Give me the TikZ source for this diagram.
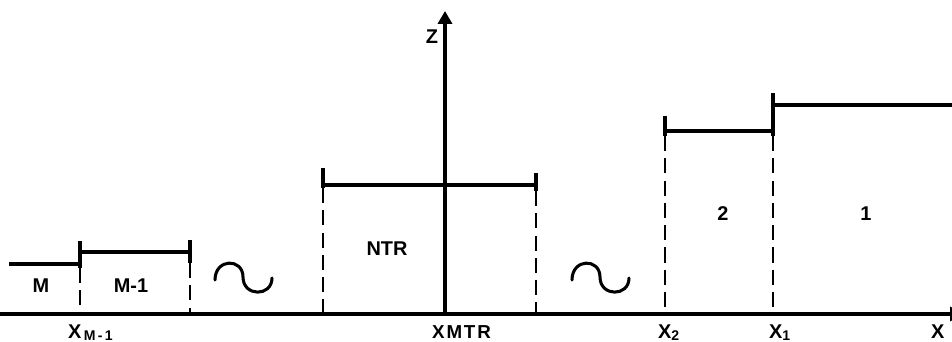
\documentclass[tikz,border=0pt]{standalone}
\usepackage{fontspec}
\setmainfont{Liberation Sans}
\usetikzlibrary{arrows.meta}

% lowered index for the abscissa marks
\newcommand{\lowidx}[1]{\raisebox{-2pt}{\fontsize{12}{12}\selectfont #1}}

\begin{document}
\begin{tikzpicture}[x=0.03cm, y=-0.03cm,
  axis/.style={line width=2.6pt, -{Triangle[length=11pt,width=12pt]}},
  bar/.style={line width=2.9pt},
  cut/.style={line width=2.3pt, dash pattern=on 13pt off 6pt},
  wave/.style={line width=2.6pt, line cap=round},
  zone/.style={font=\bfseries\fontsize{17}{19}\selectfont},
  abscissa/.style={font=\bfseries\fontsize{17}{19}\selectfont, anchor=base west}]

\useasboundingbox (0,0) rectangle (952,342);

% Axes
\coordinate (o) at (0,314);
\coordinate (xend) at (963,314);
\coordinate (zfoot) at (445,314);
\coordinate (ztop) at (445,11);
\draw[axis] (o) -- (xend);
\draw[axis] (zfoot) -- (ztop);
\node[font=\bfseries\fontsize{17}{19}\selectfont] (zlab) at (432,37) {Z};

% Left end: cells M and M-1
\coordinate (m0) at (9,264);
\coordinate (m1) at (80,264);
\draw[bar] (m0) -- (m1);
\draw[bar] (80,241) -- (80,268);
\draw[bar] (80,252) -- (190,252);
\draw[bar] (190,240) -- (190,263);
\draw[cut] (80,268) -- (80,314);
\draw[cut] (190,263) -- (190,314);
\node[zone] (cm)  at (41,286)  {M};
\node[zone] (cm1) at (131,286) {M-1};

% Central cell NTR
\draw[bar] (323,168) -- (323,188);
\draw[bar] (536,173) -- (536,191);
\draw[bar] (323,185) -- (536,185);
\draw[cut] (323,188) -- (323,314);
\draw[cut] (536,191) -- (536,314);
\node[zone] (cntr) at (387,249) {NTR};

% Right end: cells 2 and 1
\draw[bar] (665,116) -- (665,136);
\draw[bar] (665,131) -- (773,131);
\draw[bar] (773,93) -- (773,136);
\draw[bar] (773,105) -- (952,105);
\draw[cut] (665,136) -- (665,314);
\draw[cut] (773,136) -- (773,314);
\node[zone] (c2) at (723,214) {2};
\node[zone] (c1) at (866,214) {1};

% Omitted cells
\draw[wave] (215,280) .. controls (215,258) and (243,258) .. (243,277)
  .. controls (243,297) and (272,297) .. (272,278);
\draw[wave] (572,280) .. controls (572,258) and (600,258) .. (600,277)
  .. controls (600,297) and (629,297) .. (629,278);

% Abscissa marks
\node[abscissa] (xm1)  at (64,338)  {X\lowidx{\,M\,-\,1}};
\node[abscissa] (xmtr) at (428,338)
  {\fontsize{16}{18}\selectfont\addfontfeature{LetterSpace=10}XMTR};
\node[abscissa] (x2)   at (654,338) {X\lowidx{2}};
\node[abscissa] (x1)   at (765,338) {X\lowidx{1}};
\node[abscissa] (xx)   at (927,338) {X};

\end{tikzpicture}
\end{document}
